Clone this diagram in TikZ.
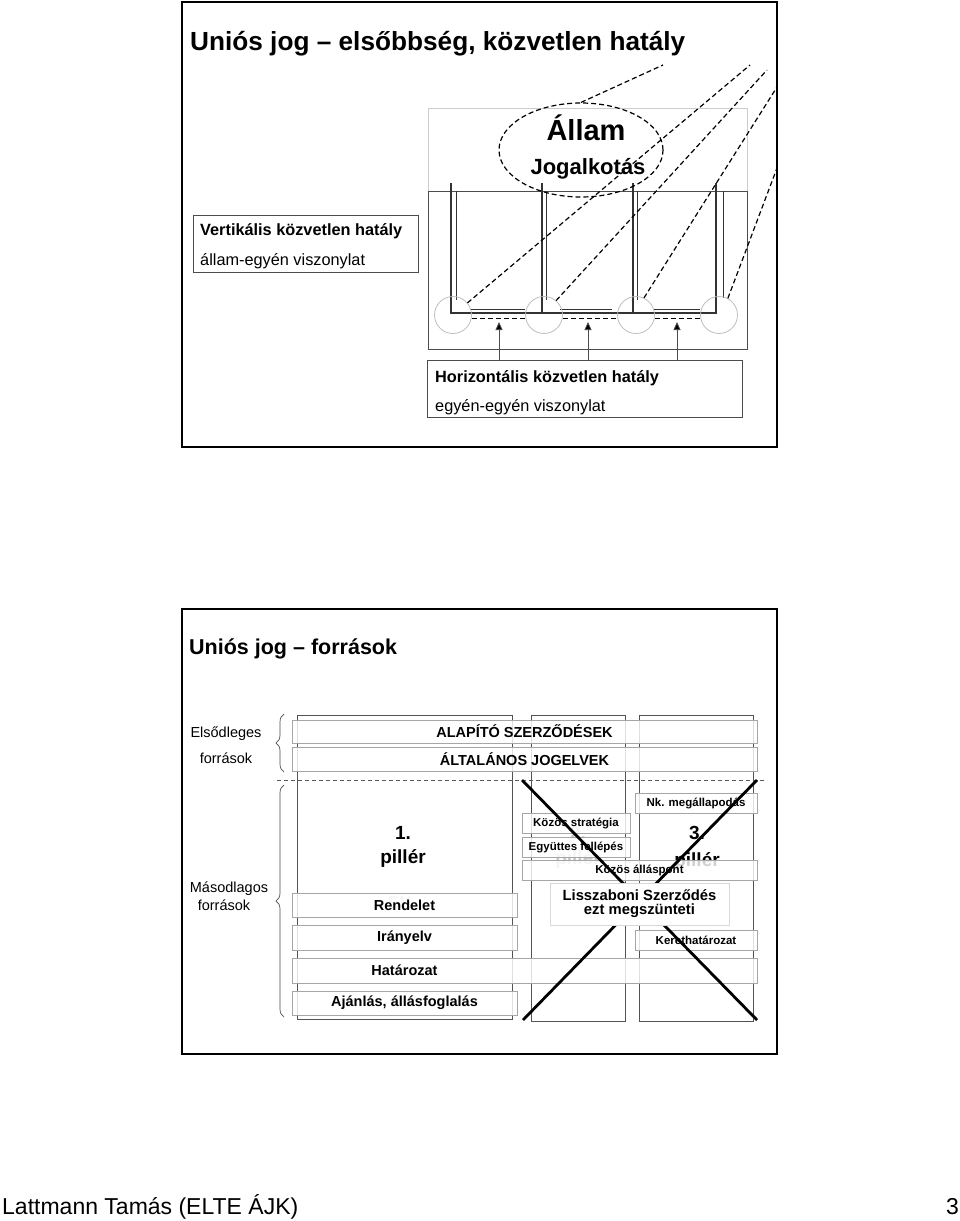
\documentclass[tikz,border=0pt]{standalone}
\usepackage{fontspec}
\setmainfont{Liberation Sans}
\usetikzlibrary{shapes.geometric,decorations.pathreplacing,arrows.meta}
\newcommand\myfs[1]{\fontsize{#1}{#1}\selectfont}
\begin{document}
\begin{tikzpicture}[x=1pt,y=-1pt,
  frame/.style={draw=black,line width=2.2pt},
  txt/.style={inner sep=0pt,anchor=base west},
  ctxt/.style={inner sep=0pt,anchor=base},
  dsh/.style={draw=black,line width=1.2pt,dash pattern=on 5pt off 3pt},
  uline/.style={draw=black!80,line width=1.2pt},
  circ/.style={circle,draw=gray!50,line width=0.8pt,minimum size=37pt,inner sep=0pt},
  tbox/.style={draw=gray!60!black,line width=0.9pt,inner sep=0pt},
  col/.style={draw=gray!65!black,line width=0.8pt},
  bar/.style={draw=gray!70,line width=0.8pt,fill=white,fill opacity=0.82,text opacity=1,inner sep=0pt,font=\bfseries\myfs{14.5}},
  sbar/.style={bar,font=\bfseries\myfs{11.5}},
  xline/.style={draw=black,line width=2.8pt},
  brc/.style={draw=black!70,line width=0.7pt,decorate,decoration={brace,amplitude=8pt}},
  arr/.style={draw=black!70,line width=0.8pt,-{Triangle[length=8pt,width=7pt,fill=black]}}]
\useasboundingbox (0,0) rectangle (960,1221);
\fill[white] (0,0) rectangle (960,1221);

% ---------- top slide ----------
\draw[frame] (182,2) rectangle (777,447);
\node[txt,font=\bfseries\myfs{26.2}] (t1) at (190,50) {Uniós jog -- elsőbbség, közvetlen hatály};

\node[tbox,minimum width=225pt,minimum height=57pt] (vbox) at (305.5,243.5) {};
\node[txt,font=\bfseries\myfs{16.3}] (vt1) at (200,235) {Vertikális közvetlen hatály};
\node[txt,font=\myfs{16.3}] (vt2) at (200,265) {állam-egyén viszonylat};

\draw[draw=gray!40,line width=0.8pt] (428,108) rectangle (747,191);
\draw[draw=gray!60!black,line width=0.9pt] (428,191) rectangle (747,349);

\draw[uline] (451,183)--(451,313)--(716,313)--(716,183);
\draw[uline] (542,183)--(542,313);
\draw[uline] (633,183)--(633,313);
\draw[uline,line width=1pt] (456,191)--(456,300);
\draw[uline,line width=1pt] (546,191)--(546,300);
\draw[uline,line width=1pt] (637,191)--(637,300);
\draw[uline,line width=1pt] (723,191)--(723,298);
\draw[uline,line width=1pt] (470,309)--(525,309);
\draw[uline,line width=1pt] (560,309)--(612,309);
\draw[uline,line width=1pt] (653,309)--(700,309);

\node[circ] (c1) at (453,315) {};
\node[circ] (c2) at (544,315) {};
\node[circ] (c3) at (636,315) {};
\node[circ] (c4) at (719,315) {};

\draw[dsh,line width=1pt] ([yshift=-3pt]c1.east) -- ([yshift=-3pt]c2.west);
\draw[dsh,line width=1pt] ([yshift=-3pt]c2.east) -- ([yshift=-3pt]c3.west);
\draw[dsh,line width=1pt] ([yshift=-3pt]c3.east) -- ([yshift=-3pt]c4.west);

\node[ellipse,dsh,minimum width=164pt,minimum height=94pt,inner sep=0pt] (ell) at (581,150) {};
\node[ctxt,font=\bfseries\myfs{29}] (allam) at (586,140) {Állam};
\node[ctxt,font=\bfseries\myfs{22}] (jog) at (588,174) {Jogalkotás};

\coordinate (e0) at (663,65);
\coordinate (e1) at (750,65);
\coordinate (e2) at (767,70);
\coordinate (e3) at (777,87);
\coordinate (e4) at (777,168);
\draw[dsh] (ell.north) -- (e0);
\draw[dsh] (c1.40) -- (e1);
\draw[dsh] (c2.50) -- (e2);
\draw[dsh] (c3.65) -- (e3);
\draw[dsh] (c4.62) -- (e4);

\node[tbox,minimum width=315pt,minimum height=57pt] (hbox) at (584.5,388.5) {};
\node[txt,font=\bfseries\myfs{16.3}] (ht1) at (435,382) {Horizontális közvetlen hatály};
\node[txt,font=\myfs{16.3}] (ht2) at (435,411) {egyén-egyén viszonylat};

\coordinate (a1) at (499,322);
\coordinate (a2) at (588,322);
\coordinate (a3) at (677,322);
\draw[arr] (a1 |- hbox.north) -- (a1);
\draw[arr] (a2 |- hbox.north) -- (a2);
\draw[arr] (a3 |- hbox.north) -- (a3);

% ---------- bottom slide ----------
\draw[frame] (182,609) rectangle (777,1054);
\node[txt,font=\bfseries\myfs{21.5}] (t2) at (189,654) {Uniós jog -- források};

\node[ctxt,font=\myfs{14.5}] (els1) at (226,737) {Elsődleges};
\node[ctxt,font=\myfs{14.5}] (els2) at (226,763) {források};
\node[ctxt,font=\myfs{14.5}] (mas1) at (229,892) {Másodlagos};
\node[ctxt,font=\myfs{14.5}] (mas2) at (224,910) {források};

\draw[brc] (284,772) -- (284,714);
\draw[brc] (284,1017) -- (284,785);

\draw[col] (297,715) rectangle (512,1019);
\draw[col] (531,715) rectangle (625,1021);
\draw[col] (639,715) rectangle (753,1021);

\draw[draw=gray!70!black,line width=1pt,dash pattern=on 4pt off 3pt] (277,780) -- (767,780);

\node[ctxt,font=\bfseries\myfs{19}] (p1a) at (403,839) {1.};
\node[ctxt,font=\bfseries\myfs{19}] (p1b) at (403,863) {pillér};
\node[ctxt,font=\bfseries\myfs{19},text=gray!45] (p2a) at (578,839) {2.};
\node[ctxt,font=\bfseries\myfs{19},text=gray!45] (p2b) at (578,864) {pillér};
\node[ctxt,font=\bfseries\myfs{19}] (p3a) at (697,839) {3.};
\node[ctxt,font=\bfseries\myfs{19}] (p3b) at (697,866) {pillér};
\node[ctxt,font=\bfseries\myfs{17},text=gray!40] (ek) at (400,908) {EK};

\node[bar,minimum width=465pt,minimum height=23pt] (alap) at (524.5,731.5) {ALAPÍTÓ SZERZŐDÉSEK};
\node[bar,minimum width=465pt,minimum height=24pt] (altal) at (524.5,759.5) {ÁLTALÁNOS JOGELVEK};
\node[bar,minimum width=225pt,minimum height=24pt] (rend) at (404.5,905) {Rendelet};
\node[bar,minimum width=225pt,minimum height=25pt] (iranyelv) at (404.5,937.5) {Irányelv};
\node[bar,minimum width=465pt,minimum height=25pt] (hatbar) at (524.5,970.5) {};
\node[font=\bfseries\myfs{14.5},inner sep=0pt] (hat) at (404.5,970.5) {Határozat};
\node[bar,minimum width=225pt,minimum height=24pt] (ajan) at (404.5,1003) {Ajánlás, állásfoglalás};

\node[sbar,minimum width=122pt,minimum height=20pt] (nk) at (696,803.5) {Nk. megállapodás};
\node[sbar,minimum width=108pt,minimum height=20pt] (kstrat) at (576,823) {Közös stratégia};
\node[sbar,minimum width=108pt,minimum height=20pt] (egy) at (576,847) {Együttes fellépés};
\node[sbar,minimum width=235pt,minimum height=20pt] (kall) at (639.5,870) {Közös álláspont};
\node[sbar,minimum width=122pt,minimum height=20pt] (keret) at (696,940) {Kerethatározat};

\coordinate (x1) at (522,780);
\coordinate (x2) at (757,1020);
\coordinate (x3) at (757,780);
\coordinate (x4) at (523,1020);
\draw[xline] (x1) -- (x2);
\draw[xline] (x3) -- (x4);

\node[draw=gray!30,line width=0.8pt,fill=white,minimum width=179pt,minimum height=42pt,inner sep=0pt,align=center,font=\bfseries\myfs{14.8}] (lissz) at (639.5,904) {Lisszaboni Szerződés\\[-1pt]ezt megszünteti};

% ---------- footer ----------
\node[txt,font=\myfs{23}] (foot) at (2,1214) {Lattmann Tamás (ELTE ÁJK)};
\node[inner sep=0pt,anchor=base east,font=\myfs{23}] (pg) at (959,1214) {3};
\end{tikzpicture}
\end{document}
